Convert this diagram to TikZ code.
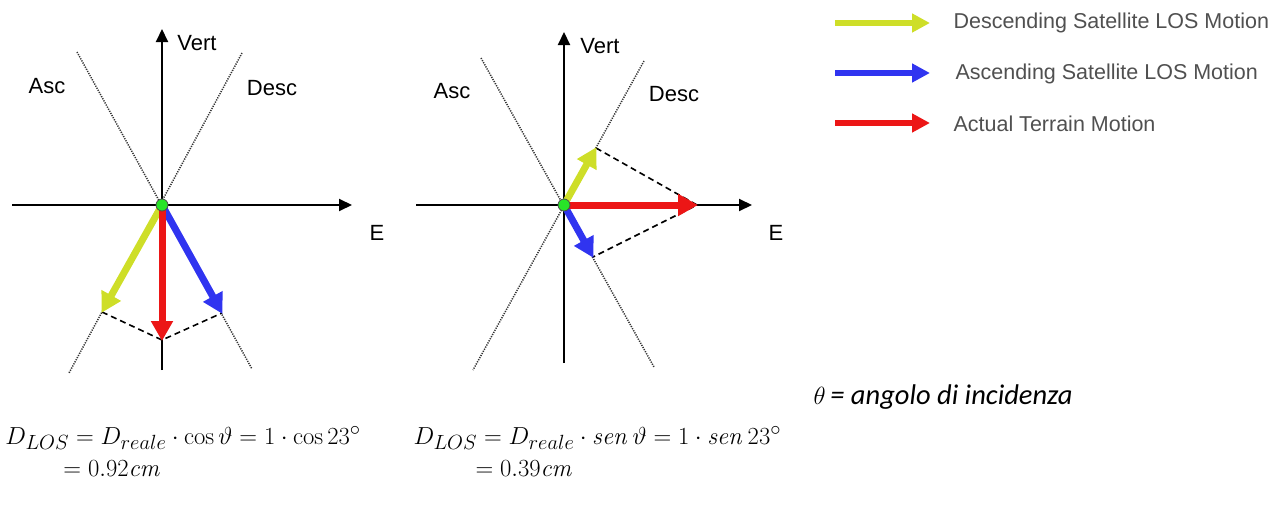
\documentclass[tikz,border=0pt]{standalone}
\usepackage[no-math]{fontspec}
\setmainfont{Liberation Sans}
\newfontfamily\calib{Carlito}
\usetikzlibrary{arrows.meta}
\definecolor{ylw}{RGB}{206,222,40}
\definecolor{blu}{RGB}{48,52,240}
\definecolor{rd}{RGB}{236,22,22}
\definecolor{grn}{RGB}{40,228,40}
\definecolor{lgray}{RGB}{80,80,80}
\begin{document}
\begin{tikzpicture}[x=1pt,y=-1pt,
  axis/.style={line width=2pt,-{Triangle[length=13pt,width=12pt]}},
  ref/.style={line width=1.5pt,dash pattern=on 1.2pt off 1.2pt,black!80},
  proj/.style={line width=1.6pt,dash pattern=on 6pt off 4pt},
  vec/.style={line width=7pt,-{Triangle[length=20pt,width=21pt]},shorten >=-1pt},
  legvec/.style={line width=6pt,-{Triangle[length=18pt,width=18pt]}},
  lbl/.style={font=\fontsize{22}{24}\selectfont},
  legtxt/.style={font=\fontsize{21.5}{24}\selectfont,text=lgray,anchor=west},
  dot/.style={circle,fill=grn,draw=black!70,line width=0.8pt,minimum size=12pt,inner sep=0pt},
  frm/.style={font=\fontsize{24.88}{28}\selectfont,anchor=west,scale=0.99}]
\useasboundingbox (0,0) rectangle (1283,506);
% ---------- left diagram
\coordinate (O1) at (162,205);
\coordinate (L1a) at (77,52); \coordinate (L1b) at (252,369);
\coordinate (L1c) at (242,53); \coordinate (L1d) at (69,373);
\coordinate (V1t) at (162,29); \coordinate (V1b) at (162,370);
\coordinate (H1l) at (12,205); \coordinate (H1r) at (352,205);
\coordinate (Y1) at (102,312); \coordinate (R1) at (162,340); \coordinate (B1) at (222,313);
\draw[ref] (L1a) -- (L1b);
\draw[ref] (L1c) -- (L1d);
\draw[axis] (V1b) -- (V1t);
\draw[axis] (H1l) -- (H1r);
\draw[proj] (Y1) -- (R1) -- (B1);
\draw[vec,ylw] (O1) -- (Y1);
\draw[vec,blu] (O1) -- (B1);
\draw[vec,rd] (O1) -- (R1);
\node[dot] (D1) at (O1) {};
\node[lbl] (vert1) at (197,43) {Vert};
\node[lbl] (asc1) at (47,86) {Asc};
\node[lbl] (desc1) at (272,88) {Desc};
\node[lbl] (e1) at (377,233) {E};
% ---------- right diagram
\coordinate (O2) at (564,205);
\coordinate (L2a) at (481,58); \coordinate (L2b) at (654,367);
\coordinate (L2c) at (644,61); \coordinate (L2d) at (473,370);
\coordinate (V2t) at (564,32); \coordinate (V2b) at (564,363);
\coordinate (H2l) at (416,205); \coordinate (H2r) at (752,205);
\coordinate (Y2) at (596,148); \coordinate (R2) at (697,205); \coordinate (B2) at (593,257);
\draw[ref] (L2a) -- (L2b);
\draw[ref] (L2c) -- (L2d);
\draw[axis] (V2b) -- (V2t);
\draw[axis] (H2l) -- (H2r);
\draw[proj] (Y2) -- (R2) -- (B2);
\draw[vec,ylw] (O2) -- (Y2);
\draw[vec,blu] (O2) -- (B2);
\draw[vec,rd] (O2) -- (R2);
\node[dot] (D2) at (O2) {};
\node[lbl] (vert2) at (600,46) {Vert};
\node[lbl] (asc2) at (452,91) {Asc};
\node[lbl] (desc2) at (674,94) {Desc};
\node[lbl] (e2) at (776,233) {E};
% ---------- legend
\coordinate (ly1) at (835,23); \coordinate (ly2) at (930,23);
\coordinate (lb1) at (835,73); \coordinate (lb2) at (930,73);
\coordinate (lr1) at (835,123); \coordinate (lr2) at (930,123);
\draw[legvec,ylw] (ly1) -- (ly2);
\draw[legvec,blu] (lb1) -- (lb2);
\draw[legvec,rd] (lr1) -- (lr2);
\node[legtxt] (t1) at (950,23) {Descending Satellite LOS Motion};
\node[legtxt] (t2) at (952,74) {Ascending Satellite LOS Motion};
\node[legtxt] (t3) at (950,124) {Actual Terrain Motion};
% ---------- formulas
\node[font=\fontsize{28.5}{30}\selectfont\calib\itshape,anchor=west] (th) at (810,397) {$\theta$\,= angolo di incidenza};
\node[frm] (f1) at (2,438) {$D_{LOS}=D_{reale}\cdot\cos\vartheta=1\cdot\cos 23^\circ$};
\node[frm] (f1b) at (60,469) {$=0.92\mathit{cm}$};
\node[frm] (f2) at (410,438) {$D_{LOS}=D_{reale}\cdot \mathit{sen}\,\vartheta=1\cdot\mathit{sen}\,23^\circ$};
\node[frm] (f2b) at (472,469) {$=0.39\mathit{cm}$};
\end{tikzpicture}
\end{document}
